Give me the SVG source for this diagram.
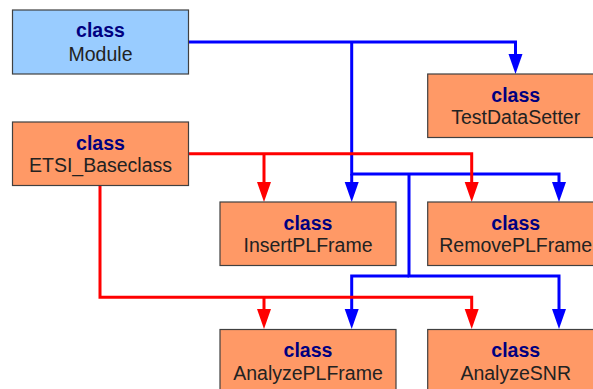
<svg xmlns="http://www.w3.org/2000/svg" width="593" height="389" viewBox="0 0 593 389">
<style>
.box{fill:#ff9966;stroke:#404040;stroke-width:1.2}
.mod{fill:#99ccff;stroke:#404040;stroke-width:1.2}
.k{font-family:"Liberation Sans",Arial,sans-serif;font-size:19.5px;font-weight:bold;fill:#000080;text-anchor:middle}
.n{font-family:"Liberation Sans",Arial,sans-serif;font-size:19.5px;fill:#222;text-anchor:middle}
.b{fill:none;stroke:#0000ff;stroke-width:3}
.r{fill:none;stroke:#ff0000;stroke-width:3}
</style>
<defs>
<marker id="ab" viewBox="0 0 14 20" refX="7" refY="20" markerWidth="14" markerHeight="20" markerUnits="userSpaceOnUse" orient="auto-start-reverse"><path d="M0,0 L14,0 L7,20 Z" fill="#0000ff"/></marker>
<marker id="ar" viewBox="0 0 14 20" refX="7" refY="20" markerWidth="14" markerHeight="20" markerUnits="userSpaceOnUse" orient="auto-start-reverse"><path d="M0,0 L14,0 L7,20 Z" fill="#ff0000"/></marker>
</defs>
<g id="connectors">
<path class="b" d="M188.5,42 H515.5 V54"/>
<path class="b" d="M351.7,42 V174 H559 V182"/>
<path class="b" d="M351.7,174 V182"/>
<path class="b" d="M409,174 V276 H559 V309"/>
<path class="b" d="M409,276 H351.7 V309"/>
<path class="r" d="M188.5,153.7 H471.7 V182"/>
<path class="r" d="M264,153.7 V182"/>
<path class="r" d="M100,185.5 V297.3 H471.7 V309"/>
<path class="r" d="M264,297.3 V309"/>
<g fill="#0000ff">
<path d="M508.5,54 h14 l-7,20 z"/>
<path d="M344.7,182 h14 l-7,20 z"/>
<path d="M552,182 h14 l-7,20 z"/>
<path d="M344.7,309 h14 l-7,20 z"/>
<path d="M552,309 h14 l-7,20 z"/>
</g>
<g fill="#ff0000">
<path d="M257,182 h14 l-7,20 z"/>
<path d="M464.7,182 h14 l-7,20 z"/>
<path d="M257,309 h14 l-7,20 z"/>
<path d="M464.7,309 h14 l-7,20 z"/>
</g>
</g>
<g id="Module"><rect class="mod" x="12.5" y="10" width="176" height="64"/><text class="k" x="100.5" y="37">class</text><text class="n" x="100.5" y="61">Module</text></g>
<g id="ETSI_Baseclass"><rect class="box" x="12.5" y="122" width="176" height="63.5"/><text class="k" x="100.5" y="150">class</text><text class="n" x="100.5" y="172">ETSI_Baseclass</text></g>
<g id="TestDataSetter"><rect class="box" x="427.7" y="74" width="176" height="63.5"/><text class="k" x="515.7" y="102">class</text><text class="n" x="515.7" y="124">TestDataSetter</text></g>
<g id="InsertPLFrame"><rect class="box" x="220" y="202" width="176" height="63.5"/><text class="k" x="308" y="230">class</text><text class="n" x="308" y="252">InsertPLFrame</text></g>
<g id="RemovePLFrame"><rect class="box" x="427.7" y="202" width="176" height="63.5"/><text class="k" x="515.7" y="230">class</text><text class="n" x="515.7" y="252">RemovePLFrame</text></g>
<g id="AnalyzePLFrame"><rect class="box" x="220" y="329.5" width="176" height="63.5"/><text class="k" x="308" y="357">class</text><text class="n" x="308" y="380">AnalyzePLFrame</text></g>
<g id="AnalyzeSNR"><rect class="box" x="427.7" y="329.5" width="176" height="63.5"/><text class="k" x="515.7" y="357">class</text><text class="n" x="515.7" y="380">AnalyzeSNR</text></g>
</svg>
